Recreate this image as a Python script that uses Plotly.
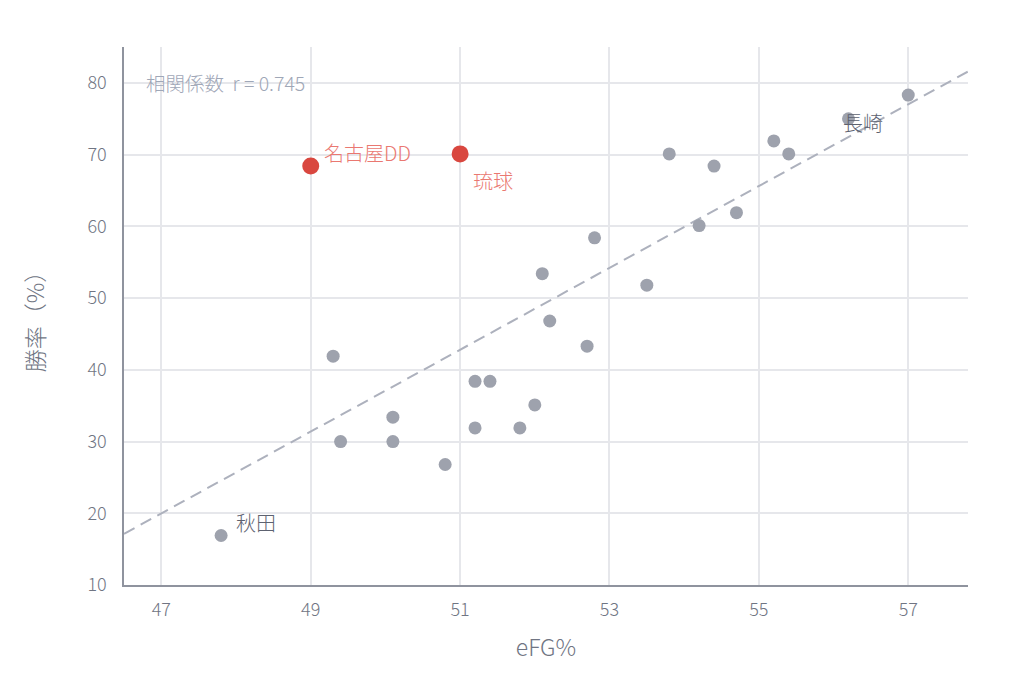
import numpy as np
import plotly.graph_objects as go

efg = [47.8, 49.0, 51.0, 49.3, 49.4, 50.1, 50.1, 50.8, 51.2, 51.4, 51.2, 51.8, 52.0,
       52.2, 52.1, 52.7, 52.8, 53.5, 53.8, 54.2, 54.4, 54.7, 55.2, 55.4, 56.2, 57.0]
win = [16.9, 68.4, 70.1, 41.9, 30.0, 33.4, 30.0, 26.8, 38.4, 38.4, 31.9, 31.9, 35.1,
       46.8, 53.4, 43.3, 58.4, 51.8, 70.1, 60.1, 68.4, 61.9, 71.9, 70.1, 75.0, 78.3]
teams = ["秋田", "名古屋DD", "琉球", "", "", "", "", "", "", "", "", "", "",
         "", "", "", "", "", "", "", "", "", "", "", "長崎", ""]
highlight = ["名古屋DD", "琉球"]
x_ticks = [47, 49, 51, 53, 55, 57]
y_ticks = [10, 20, 30, 40, 50, 60, 70, 80]
r_text = "相関係数  r = 0.745"

FONT = "Noto Sans CJK JP"
GREY = "#9ea2ad"
RED = "#d9473f"
TICK = "#707583"

slope, intercept = np.polyfit(efg, win, 1)
xr = [46.5, 57.8]

fig = go.Figure()
fig.add_trace(go.Scatter(
    x=xr, y=[slope * v + intercept for v in xr], mode="lines",
    line=dict(color="#adb1bd", width=2, dash="12px,7px"), hoverinfo="skip"))

gx = [a for a, t in zip(efg, teams) if t not in highlight]
gy = [b for b, t in zip(win, teams) if t not in highlight]
hx = [a for a, t in zip(efg, teams) if t in highlight]
hy = [b for b, t in zip(win, teams) if t in highlight]
fig.add_trace(go.Scatter(x=gx, y=gy, mode="markers",
                         marker=dict(color=GREY, size=13)))
fig.add_trace(go.Scatter(x=hx, y=hy, mode="markers",
                         marker=dict(color=RED, size=17)))

label_style = {
    "名古屋DD": dict(xshift=11, yshift=14, color="#ea7871"),
    "琉球": dict(xshift=11, yshift=-27, color="#ea7871"),
    "秋田": dict(xshift=13, yshift=13, color="#5d6270"),
    "長崎": dict(xshift=-8, yshift=-4, color="#5d6270"),
}
for a, b, t in zip(efg, win, teams):
    if t:
        s = label_style[t]
        fig.add_annotation(x=a, y=b, text=t, showarrow=False, xanchor="left",
                           yanchor="middle", xshift=s["xshift"], yshift=s["yshift"],
                           font=dict(family=FONT, size=20, color=s["color"], weight=300))

fig.add_annotation(x=46.5, y=80, xref="x", yref="y", text=r_text, showarrow=False,
                   xanchor="left", yanchor="middle", xshift=20,
                   font=dict(family=FONT, size=19.5, color="#9fa7b7", weight=300))

fig.update_layout(
    width=1024, height=683, showlegend=False,
    plot_bgcolor="white", paper_bgcolor="white",
    margin=dict(l=116, r=64, t=39, b=106),
    font=dict(family=FONT, color=TICK, weight=300),
    xaxis=dict(range=[46.5, 57.8], tickvals=x_ticks, showgrid=True, gridcolor="#e6e7eb",
               gridwidth=1.5, zeroline=False, showline=True, linecolor="#8f939e", linewidth=1.5,
               ticks="", ticklabelstandoff=8, tickfont=dict(size=18, color=TICK),
               title=dict(text="eFG%", font=dict(size=23, color=TICK), standoff=20)),
    yaxis=dict(range=[10, 85], tickvals=y_ticks, showgrid=True, gridcolor="#e6e7eb",
               gridwidth=1.5, zeroline=False, showline=True, linecolor="#8f939e", linewidth=1.5,
               ticks="", ticklabelstandoff=12, tickfont=dict(size=18, color=TICK),
               title=dict(text="勝率（%）", font=dict(size=23, color=TICK), standoff=36)),
)
fig.write_html("out.html")
